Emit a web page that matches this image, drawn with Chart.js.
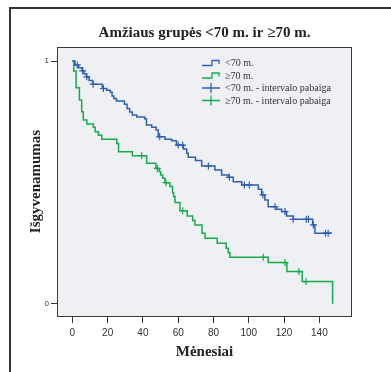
<!DOCTYPE html>
<html>
<head>
<meta charset="utf-8">
<title>Amžiaus grupės</title>
<script src="https://cdn.jsdelivr.net/npm/chart.js@4.4.1/dist/chart.umd.min.js"></script>
<style>
    body { margin: 0; background: #ffffff; }
    canvas { display: block; }
</style>
</head>
<body>
<canvas id="kmChart" width="391" height="372"></canvas>
<script>
// ========== Kaplan-Meier kreivės ==========

// <70 m. grupė (laikas mėn., išgyvenamumas)
const youngTime = [0, 1.5, 3.5, 5.5, 6.5, 8, 9.5, 11.5, 17, 19.5, 21.5, 22.5, 23.5, 25, 29.5, 31, 32.5, 34, 36.5, 41, 42, 45, 47.5, 48.7, 52.5, 56.3, 59, 63, 64.8, 65.7, 69.8, 73.3, 80.8, 84.6, 88.4, 91.2, 96, 105.4, 107.3, 109.1, 111, 115.7, 118.6, 121.4, 125.2, 136.2, 137.5, 147];
const youngSurv = [1, 0.984, 0.973, 0.96, 0.948, 0.935, 0.92, 0.905, 0.887, 0.88, 0.873, 0.856, 0.846, 0.836, 0.822, 0.805, 0.79, 0.778, 0.77, 0.762, 0.737, 0.727, 0.716, 0.688, 0.678, 0.672, 0.654, 0.638, 0.62, 0.604, 0.59, 0.568, 0.551, 0.531, 0.521, 0.503, 0.49, 0.472, 0.449, 0.428, 0.40, 0.39, 0.38, 0.362, 0.348, 0.325, 0.291, 0.291];

// ≥70 m. grupė
const oldTime = [0, 0.8, 2.1, 4, 5.3, 6.2, 8.2, 11.9, 12.9, 14.8, 16.7, 25.2, 26.2, 34, 42.1, 47.4, 49.3, 50, 51.2, 52.5, 55.3, 56.8, 57.4, 58.2, 61, 65.1, 68.2, 69.5, 73.5, 75.2, 82.1, 87.2, 88.4, 89.3, 111, 121.6, 130.3, 147.5];
const oldSurv = [1, 0.959, 0.89, 0.84, 0.791, 0.757, 0.741, 0.727, 0.709, 0.695, 0.678, 0.661, 0.627, 0.61, 0.579, 0.558, 0.545, 0.531, 0.517, 0.499, 0.483, 0.458, 0.442, 0.417, 0.384, 0.362, 0.343, 0.325, 0.291, 0.27, 0.25, 0.229, 0.211, 0.192, 0.17, 0.133, 0.092, 0];

// intervalo pabaiga (cenzūruoti stebėjimai)
const youngCensTime = [2.8, 5.9, 8.2, 11.8, 17.6, 49.5, 60, 62.5, 77.1, 89, 97.5, 100.3, 108, 114.9, 120.5, 125.2, 132.6, 133.8, 136.6, 143.5, 145];
const youngCensSurv = [0.984, 0.96, 0.935, 0.905, 0.887, 0.688, 0.654, 0.654, 0.568, 0.521, 0.49, 0.49, 0.449, 0.40, 0.38, 0.348, 0.348, 0.348, 0.325, 0.291, 0.291];
const oldCensTime = [39.3, 48.2, 53.1, 62.5, 108.2, 120.5, 128.4, 132.4];
const oldCensSurv = [0.61, 0.558, 0.499, 0.384, 0.192, 0.17, 0.133, 0.092];

// ašių žymės
const xTicks = [0, 20, 40, 60, 80, 100, 120, 140];
const yTicks = [0, 1];

const seriesLabels = ['<70 m.', '≥70 m.', '<70 m. - intervalo pabaiga', '≥70 m. - intervalo pabaiga'];
const BLUE = '#2f5fb4';
const GREEN = '#16aa4a';

// taškų masyvas iš dviejų sąrašų
function toPoints(xs, ys) {
    const pts = [];
    for (let i = 0; i < xs.length; i++) {
        pts.push({ x: xs[i], y: ys[i] });
    }
    return pts;
}

// fonas, rėmeliai ir legenda
const framePlugin = {
    id: 'frame',
    beforeDraw(chart) {
        const ctx = chart.ctx;
        const a = chart.chartArea;
        ctx.save();
        ctx.fillStyle = '#eff0f3';
        ctx.fillRect(a.left, a.top, a.right - a.left, a.bottom - a.top);
        ctx.restore();
    },
    afterDraw(chart) {
        const ctx = chart.ctx;
        const a = chart.chartArea;
        ctx.save();
        // grafiko rėmelis
        ctx.strokeStyle = '#3a3a3a';
        ctx.lineWidth = 1;
        ctx.strokeRect(a.left + 0.5, a.top + 0.5, a.right - a.left - 1, a.bottom - a.top);
        // išorinis rėmelis
        ctx.strokeStyle = '#333333';
        ctx.lineWidth = 2;
        ctx.beginPath();
        ctx.moveTo(10, 372);
        ctx.lineTo(10, 8);
        ctx.lineTo(391, 8);
        ctx.stroke();

        // legenda
        const x0 = 202;
        const rows = [63, 75.5, 88, 100.5];
        const colors = [BLUE, GREEN, BLUE, GREEN];
        ctx.lineWidth = 1.3;
        for (let i = 0; i < seriesLabels.length; i++) {
            const y = rows[i];
            ctx.strokeStyle = colors[i];
            ctx.beginPath();
            if (i < 2) {
                ctx.moveTo(x0, y + 2.5);
                ctx.lineTo(x0 + 10, y + 2.5);
                ctx.lineTo(x0 + 10, y - 2.5);
                ctx.lineTo(x0 + 17, y - 2.5);
                ctx.lineTo(x0 + 17, y + 1);
            } else {
                ctx.moveTo(x0, y);
                ctx.lineTo(x0 + 18, y);
                ctx.moveTo(x0 + 9, y - 5);
                ctx.lineTo(x0 + 9, y + 5);
            }
            ctx.stroke();
            ctx.fillStyle = '#333333';
            ctx.font = '10px "Liberation Serif", serif';
            ctx.textBaseline = 'middle';
            ctx.fillText(seriesLabels[i], 225, y + 0.5);
        }
        ctx.restore();
    }
};

const serifBold = { family: '"Liberation Serif", "Times New Roman", serif', size: 15, weight: 'bold' };

const ctx = document.getElementById('kmChart');
new Chart(ctx, {
    type: 'line',
    data: {
        datasets: [
            {
                label: seriesLabels[0],
                data: toPoints(youngTime, youngSurv),
                borderColor: BLUE,
                borderWidth: 1.5,
                stepped: 'before',
                pointRadius: 0,
                fill: false
            },
            {
                label: seriesLabels[1],
                data: toPoints(oldTime, oldSurv),
                borderColor: GREEN,
                borderWidth: 1.5,
                stepped: 'before',
                pointRadius: 0,
                fill: false
            },
            {
                label: seriesLabels[2],
                data: toPoints(youngCensTime, youngCensSurv),
                showLine: false,
                pointStyle: 'cross',
                pointRadius: 3.5,
                borderColor: BLUE,
                pointBorderWidth: 1.2
            },
            {
                label: seriesLabels[3],
                data: toPoints(oldCensTime, oldCensSurv),
                showLine: false,
                pointStyle: 'cross',
                pointRadius: 3.5,
                borderColor: GREEN,
                pointBorderWidth: 1.2
            }
        ]
    },
    options: {
        responsive: false,
        animation: false,
        devicePixelRatio: 1,
        layout: { padding: { left: 0, right: 39, top: 0, bottom: 0 } },
        plugins: {
            legend: { display: false },
            tooltip: { enabled: false },
            title: {
                display: true,
                fullSize: false,
                text: 'Amžiaus grupės <70 m. ir ≥70 m.',
                color: '#222222',
                font: serifBold,
                padding: { top: 24, bottom: 5 }
            }
        },
        scales: {
            x: {
                type: 'linear',
                min: -8.7,
                max: 158.5,
                afterBuildTicks(scale) {
                    scale.ticks = xTicks.map(v => ({ value: v }));
                },
                afterFit(scale) { scale.height = 56; },
                border: { display: false },
                grid: { drawOnChartArea: false, drawTicks: true, tickLength: 7, color: '#333333' },
                ticks: {
                    color: '#333333',
                    padding: 4,
                    maxRotation: 0,
                    font: { family: '"Liberation Sans", Arial, sans-serif', size: 10 }
                },
                title: {
                    display: true,
                    text: 'Mėnesiai',
                    color: '#222222',
                    font: serifBold,
                    padding: { top: 0, bottom: 10.6 }
                }
            },
            y: {
                type: 'linear',
                min: -0.05,
                max: 1.058,
                afterBuildTicks(scale) {
                    scale.ticks = yTicks.map(v => ({ value: v }));
                },
                afterFit(scale) { scale.width = 57; },
                border: { display: false },
                grid: { drawOnChartArea: false, drawTicks: true, tickLength: 6, color: '#333333' },
                ticks: {
                    color: '#333333',
                    padding: 2,
                    font: { family: '"Liberation Sans", Arial, sans-serif', size: 8 }
                },
                title: {
                    display: true,
                    text: 'Išgyvenamumas',
                    color: '#222222',
                    font: serifBold,
                    padding: { top: 27.6, bottom: 0 }
                }
            }
        }
    },
    plugins: [framePlugin]
});
</script>
</body>
</html>
